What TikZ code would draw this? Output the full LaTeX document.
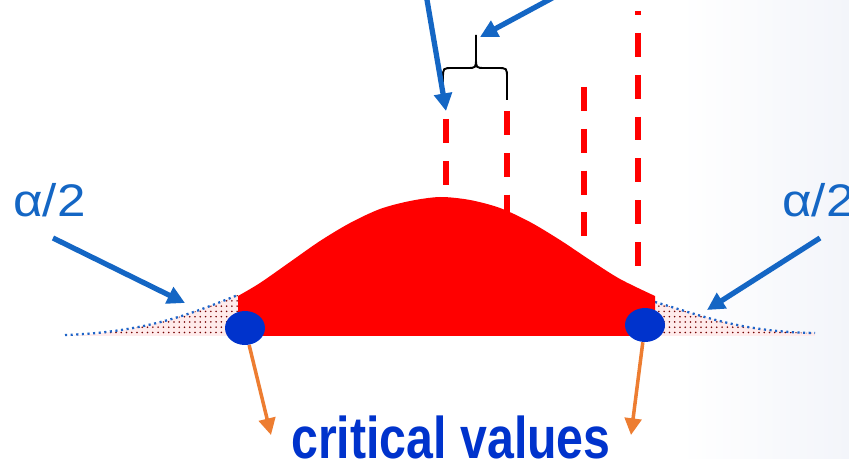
\documentclass[tikz,border=0pt]{standalone}
\usepackage{fontspec}
\setmainfont{Liberation Sans}
\usetikzlibrary{arrows.meta,positioning,patterns,shapes.geometric}
\definecolor{cvRed}{RGB}{255,0,0}
\definecolor{cvArrow}{RGB}{20,102,196}
\definecolor{cvDot}{RGB}{0,51,204}
\definecolor{cvOrange}{RGB}{237,125,49}
\definecolor{cvTail}{RGB}{30,100,200}
\definecolor{cvBack}{RGB}{243,245,250}

\begin{document}
\begin{tikzpicture}[x=0.02cm,y=-0.02cm,
    bluearrow/.style={-{Triangle[length=10pt,width=10pt]},line width=3pt,cvArrow},
    orangearrow/.style={-{Triangle[length=9.5pt,width=9.5pt]},line width=2pt,cvOrange},
    critline/.style={cvRed,line width=3.4pt,dash pattern=on 13.6pt off 10.2pt},
    critdot/.style={ellipse,fill=cvDot,minimum width=0.8cm,minimum height=0.68cm,inner sep=0pt},
    tailfill/.style={fill=red!8,postaction={pattern=dots,pattern color=red!45!black}},
    tailline/.style={cvTail,line width=1.3pt,dash pattern=on 1.2pt off 2pt},
    alphatext/.style={text=cvArrow,font=\fontsize{26}{30}\selectfont,inner sep=0pt,anchor=base west}]
    \useasboundingbox (0,0) rectangle (849,459);
    \clip (0,0) rectangle (849,459);
    \shade[left color=white,right color=cvBack] (680,0) rectangle (849,459);
    % Tails
    \path[tailfill] (65,336) .. controls (150,332) and (195,312) .. (238,295) -- (238,336) -- cycle;
    \path[tailfill] (655,302) .. controls (700,315) and (740,332) .. (815,333) -- (815,336) -- (655,336) -- cycle;
    \draw[tailline] (65,335) .. controls (150,332) and (195,312) .. (238,295);
    \draw[tailline] (655,302) .. controls (700,315) and (740,332) .. (815,333);
    % Bell region
    \fill[cvRed] (238,336) -- plot[smooth] coordinates {(238,296) (260,283) (290,262) (320,241) (350,223) (380,209) (410,201) (440,197) (470,200) (500,208) (530,222) (560,240) (590,260) (620,279) (655,296)} -- (655,336) -- cycle;
    % Dashed lines
    \draw[critline] (446,119) -- (446,187);
    \draw[critline] (507,111) -- (507,212);
    \draw[critline] (584,87) -- (584,237);
    \draw[critline,dash phase=11.3pt] (638,11) -- (638,267);
    % Brace
    \draw[line width=1.1pt] (443,100) -- (443,78) .. controls (443,68) .. (453,68) -- (467,68) .. controls (476,68) .. (476,58) -- (476,35)
        (476,58) .. controls (476,68) .. (485,68) -- (497,68) .. controls (507,68) .. (507,78) -- (507,100);
    % Critical points
    \node[critdot] (lcrit) at (245,328) {};
    \node[critdot] (rcrit) at (645,325) {};
    \node[text=cvDot,font=\bfseries\fontsize{33.5}{40}\selectfont,inner sep=0pt,anchor=base] (crit) at (451,459) {\scalebox{0.82}[1]{critical values}};
    \coordinate (lcritend) at (271,435);
    \coordinate (rcritend) at (631,435);
    \draw[orangearrow] (lcrit) -- (lcritend);
    \draw[orangearrow] (rcrit) -- (rcritend);
    % Alpha labels
    \node[alphatext] (lalpha) at (13,217) {\scalebox{1.12}[1]{α/2}};
    \node[alphatext] (ralpha) at (782,217) {\scalebox{1.12}[1]{α/2}};
    \coordinate (lastart) at (53,238);
    \coordinate (latip) at (185,303);
    \coordinate (rastart) at (820,238);
    \coordinate (ratip) at (707,310);
    \draw[bluearrow] (lastart) -- (latip);
    \draw[bluearrow] (rastart) -- (ratip);
    % Top arrows
    \coordinate (topl) at (426,-6);
    \coordinate (bleft) at (446,111);
    \coordinate (topr) at (556,-4);
    \coordinate (btip) at (480,37);
    \draw[bluearrow] (topl) -- (bleft);
    \draw[bluearrow] (topr) -- (btip);
\end{tikzpicture}
\end{document}
